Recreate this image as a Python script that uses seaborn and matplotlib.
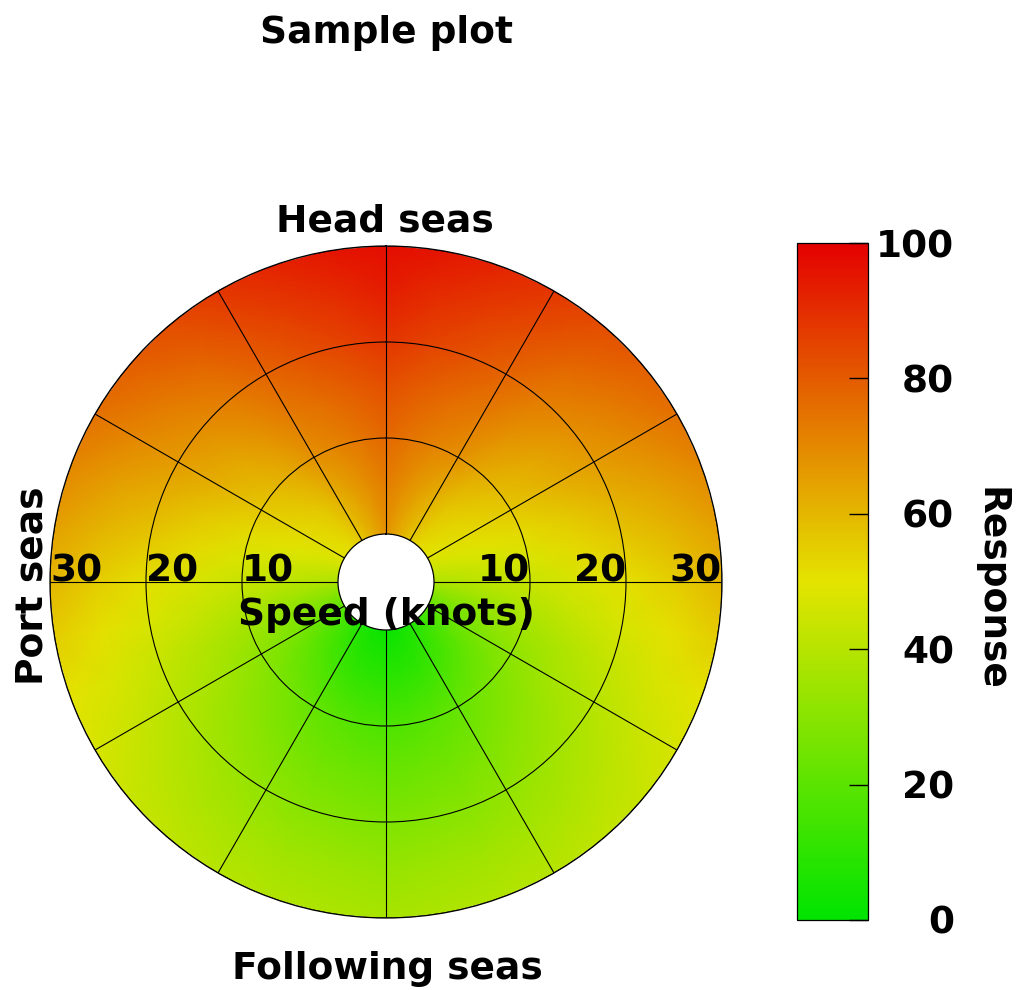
import numpy as np
import matplotlib
matplotlib.use('Agg')
import matplotlib.pyplot as plt
import seaborn as sns

# heading relative to the waves, degrees clockwise from head seas
# (read on the starboard half; the picture is mirror-symmetric about the vertical)
angles = np.arange(0, 190, 10)
speeds = np.array([0, 5, 10, 15, 20, 25, 30])

resp_s0 = [68, 64, 60, 56, 53, 51, 49, 46, 42, 38, 31, 25, 20, 15, 11, 7, 5, 3, 2]
resp_s5 = [72, 69, 65, 61, 57, 54, 52, 49, 45, 41, 35, 30, 26, 21, 17, 14, 11, 10, 9]
resp_s10 = [77, 74, 71, 68, 63, 59, 56, 52, 48, 44, 39, 35, 31, 28, 25, 22, 20, 18, 17]
resp_s15 = [82, 79, 76, 73, 68, 64, 61, 56, 52, 47, 43, 39, 36, 33, 30, 27, 25, 24, 23]
resp_s20 = [88, 85, 82, 78, 73, 69, 66, 61, 56, 51, 47, 43, 40, 37, 34, 32, 30, 29, 28]
resp_s25 = [93, 90, 87, 83, 78, 74, 70, 65, 60, 55, 51, 47, 44, 41, 38, 36, 35, 34, 33]
resp_s30 = [97, 95, 92, 88, 83, 79, 75, 70, 65, 60, 55, 50, 47, 44, 42, 40, 39, 38, 37]

ring_ticks = [10, 20, 30]
spoke_angles = np.arange(0, 360, 30)
cbar_ticks = [0, 20, 40, 60, 80, 100]

sns.set_style('white')
plt.rcParams['font.family'] = ['DejaVu Sans']
plt.rcParams['font.weight'] = 'bold'
plt.rcParams['text.color'] = 'black'
plt.rcParams['ytick.color'] = 'black'
plt.rcParams['ytick.labelcolor'] = 'black'
FS = 27

# green -> yellow -> red
cmap = sns.blend_palette(['#00e400', '#e4e400', '#e40000'], as_cmap=True)

half = np.array([resp_s0, resp_s5, resp_s10, resp_s15, resp_s20, resp_s25, resp_s30],
                dtype=float)
full = np.concatenate([half, half[:, -2::-1]], axis=1)
theta = np.deg2rad(np.concatenate([angles, 360 - angles[-2::-1]]))
TH, R = np.meshgrid(theta, speeds)

fig = plt.figure(figsize=(10.16, 9.9), dpi=100)
ax = fig.add_axes([50/1016, 72/990, 672/1016, 672/990], projection='polar')
ax.set_theta_zero_location('N')
ax.set_theta_direction(-1)

mesh = ax.pcolormesh(TH, R, full, shading='gouraud', cmap=cmap, vmin=0, vmax=100)

ax.set_ylim(0, 30)
ax.set_rorigin(-5)
ax.set_yticks(ring_ticks)
ax.set_xticks(np.deg2rad(spoke_angles))
ax.set_xticklabels([])
ax.set_yticklabels([])
ax.set_axisbelow(False)
ax.grid(True, color='black', linewidth=0.8, linestyle='-')
for sp in ax.spines.values():
    sp.set_color('black')
    sp.set_linewidth(0.9)

# speed labels along the beam line
for r in ring_ticks:
    ax.text(np.deg2rad(270), r, str(r), ha='left', va='baseline', fontsize=FS,
            fontweight='bold', zorder=5, clip_on=False)
    ax.text(np.deg2rad(90), r, str(r), ha='right', va='baseline', fontsize=FS,
            fontweight='bold', zorder=5, clip_on=False)

fig.text(386/1016, 1 - 625/990, 'Speed (knots)', ha='center', va='baseline',
         fontsize=FS, fontweight='bold', zorder=6)

fig.text(386/1016, 1 - 43/990, 'Sample plot', ha='center', va='baseline',
         fontsize=FS, fontweight='bold')
fig.text(385/1016, 1 - 232/990, 'Head seas', ha='center', va='baseline',
         fontsize=FS, fontweight='bold')
fig.text(387/1016, 1 - 979/990, 'Following seas', ha='center', va='baseline',
         fontsize=FS, fontweight='bold')
fig.text(43/1016, 1 - 586/990, 'Port seas', ha='center', va='baseline',
         rotation=90, rotation_mode='anchor', fontsize=FS, fontweight='bold')

# colour bar
cax = fig.add_axes([797/1016, 70/990, 71/1016, 677/990])
cb = fig.colorbar(mesh, cax=cax, ticks=cbar_ticks)
cax.set_axisbelow(False)
cb.outline.set_edgecolor('black')
cb.outline.set_linewidth(0.9)
cax.tick_params(axis='y', direction='in', length=14, width=1, color='black',
                labelcolor='black', pad=62, labelsize=FS, right=True)
for lab in cax.get_yticklabels():
    lab.set_horizontalalignment('right')
    lab.set_fontweight('bold')

fig.text(981/1016, 1 - 589/990, 'Response', ha='center', va='baseline',
         rotation=270, rotation_mode='anchor', fontsize=FS, fontweight='bold')

fig.savefig('out.png', dpi=100)
